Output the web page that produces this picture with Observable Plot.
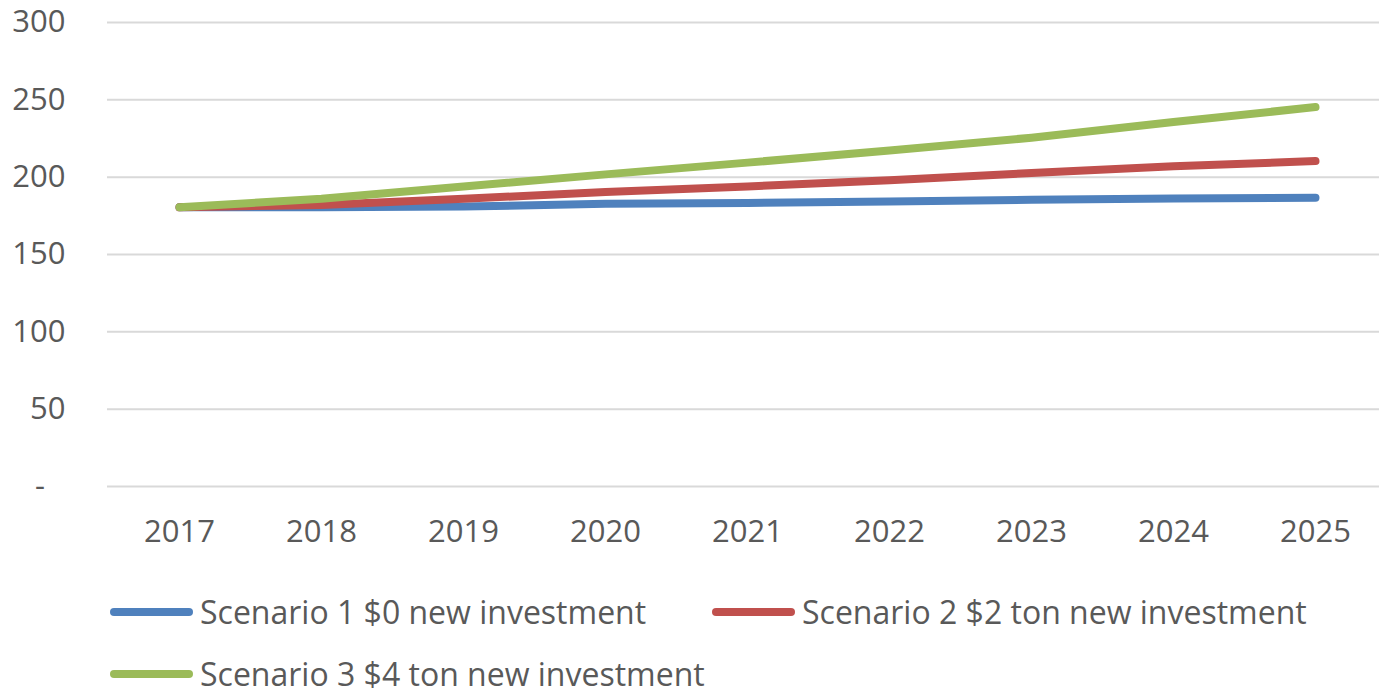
<!DOCTYPE html>
<html>
<head>
<meta charset="utf-8">
<script src="https://cdn.jsdelivr.net/npm/d3@7"></script>
<script src="https://cdn.jsdelivr.net/npm/@observablehq/plot@0.6"></script>
<style>
  html, body { margin: 0; padding: 0; background: #fff; }
  body { width: 1379px; height: 697px; overflow: hidden; font-family: "Open Sans", sans-serif; color: #595959; }
  #chart svg { display: block; }
  #legend { display: grid; grid-template-columns: 602px auto; grid-template-rows: 69px 50px; margin-left: 110px; margin-top: 11px; }
  .item { display: flex; align-items: center; height: 69px; font-size: 32px; white-space: nowrap; }
  .item.r2 { height: 32px; margin-top: 12px; }
  .item span { line-height: 32px; }
  .item svg { display: block; margin-right: 7px; }
</style>
</head>
<body>
<div id="chart"></div>
<div id="legend"></div>
<script>
const years = ["2017", "2018", "2019", "2020", "2021", "2022", "2023", "2024", "2025"];
const scenario1 = [180.5, 180.5, 181, 182.8, 183.3, 184.3, 185.4, 186.2, 186.7];
const scenario2 = [180.5, 182, 186, 190.4, 194, 198, 202.7, 207, 210.4];
const scenario3 = [180.5, 186, 194, 201.8, 209.4, 217.3, 225.5, 235.7, 245.3];
const seriesNames = ["Scenario 1 $0 new investment", "Scenario 2 $2 ton new investment", "Scenario 3 $4 ton new investment"];
const seriesColors = ["#4F81BD", "#C0504D", "#9BBB59"];
const yTicks = [0, 50, 100, 150, 200, 250, 300];

const allSeries = [scenario1, scenario2, scenario3];
const data = [];
allSeries.forEach((vals, si) => {
  vals.forEach((v, i) => data.push({year: years[i], value: v, series: seriesNames[si]}));
});

const chart = Plot.plot({
  width: 1379,
  height: 566,
  marginTop: 22,
  marginBottom: 80,
  marginLeft: 107,
  marginRight: -8,
  style: {fontFamily: "Open Sans, sans-serif", fontSize: "31px", color: "#595959", background: "#fff"},
  x: {type: "point", domain: years, padding: 0.5, label: null},
  y: {domain: [0, 300], label: null},
  color: {domain: seriesNames, range: seriesColors},
  marks: [
    Plot.gridY(yTicks, {stroke: "#d9d9d9", strokeOpacity: 1, strokeWidth: 2}),
    Plot.axisY(yTicks, {tickSize: 0, tickPadding: 42, label: null, fill: "#595959",
      tickFormat: d => d === 0 ? "-\u2002\u2009" : String(d)}),
    Plot.axisX({tickSize: 0, tickPadding: 33, label: null, fill: "#595959"}),
    Plot.line(data, {x: "year", y: "value", z: "series", stroke: "series", strokeWidth: 8,
      strokeLinecap: "round", strokeLinejoin: "round"})
  ]
});
document.getElementById("chart").appendChild(chart);

const legend = document.getElementById("legend");
seriesNames.forEach((name, i) => {
  const item = document.createElement("div");
  item.className = i >= 2 ? "item r2" : "item";
  item.innerHTML = `<svg width="83" height="10"><line x1="4" y1="5" x2="79" y2="5" stroke="${seriesColors[i]}" stroke-width="8" stroke-linecap="round"/></svg><span>${name.replace(/\$/g, "&#36;")}</span>`;
  legend.appendChild(item);
});
</script>
</body>
</html>
